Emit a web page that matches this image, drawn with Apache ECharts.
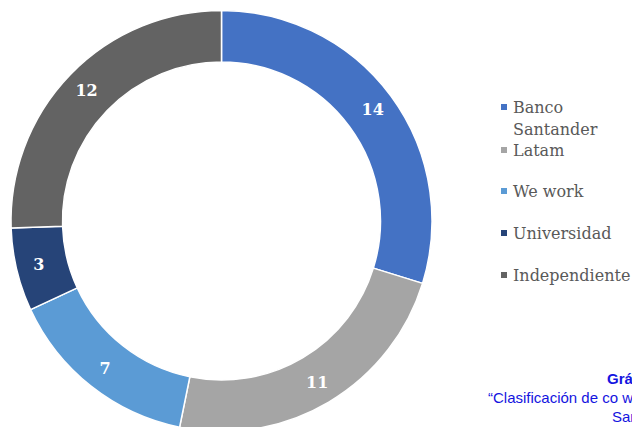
<!DOCTYPE html>
<html>
<head>
<meta charset="utf-8">
<script src="https://cdn.jsdelivr.net/npm/echarts@6/dist/echarts.min.js"></script>
<style>html,body{margin:0;padding:0;background:#fff;}#c{width:632px;height:427px;}</style>
</head>
<body>
<div id="c"></div>
<script>
const categories = ['Banco Santander', 'Latam', 'We work', 'Universidad', 'Independiente'];
const values = [14, 11, 7, 3, 12];
const colors = ['#4472C4', '#A5A5A5', '#5B9BD5', '#264478', '#636363'];
const captionLines = ['Gráfico', '“Clasificación de co working', 'Santander'];

const chart = echarts.init(document.getElementById('c'), null, {renderer: 'svg'});
const legendTops = [96, 139, 180, 222, 264];
const legendText = {fontFamily: 'DejaVu Serif', fontSize: 16, color: '#595959', lineHeight: 22};
const legends = categories.map((name, i) => ({
  data: [name],
  orient: 'vertical',
  left: 499,
  top: legendTops[i],
  padding: 0,
  icon: i === 0 ? 'path://M0,0L8,0L8,8L0,8Z M0,29.98L0.02,29.98L0.02,30L0,30Z' : 'rect',
  itemWidth: 8,
  itemHeight: i === 0 ? 30 : 8,
  formatter: n => n === 'Banco Santander' ? 'Banco\nSantander' : n,
  textStyle: legendText,
  selectedMode: false
}));

chart.setOption({
  animation: false,
  color: colors,
  legend: legends,
  series: [{
    type: 'pie',
    center: [221.5, 221],
    radius: [159, 210.5],
    startAngle: 90,
    clockwise: true,
    itemStyle: {borderColor: '#fff', borderWidth: 1.5},
    label: {
      show: true,
      position: 'inside',
      formatter: '{c}',
      color: '#fff',
      fontFamily: 'DejaVu Serif',
      fontWeight: 'bold',
      fontSize: 16
    },
    labelLine: {show: false},
    emphasis: {disabled: true},
    data: categories.map((n, i) => ({name: n, value: values[i]}))
  }],
  graphic: [
    {type: 'text', left: 607, top: 371, style: {text: captionLines[0], fontFamily: 'Liberation Sans', fontWeight: 'bold', fontSize: 15, fill: '#1414e0'}},
    {type: 'text', left: 488, top: 390, style: {text: captionLines[1], fontFamily: 'Liberation Sans', fontSize: 15, fill: '#1414e0'}},
    {type: 'text', left: 612, top: 409, style: {text: captionLines[2], fontFamily: 'Liberation Sans', fontSize: 15, fill: '#1414e0'}}
  ]
});
</script>
</body>
</html>
